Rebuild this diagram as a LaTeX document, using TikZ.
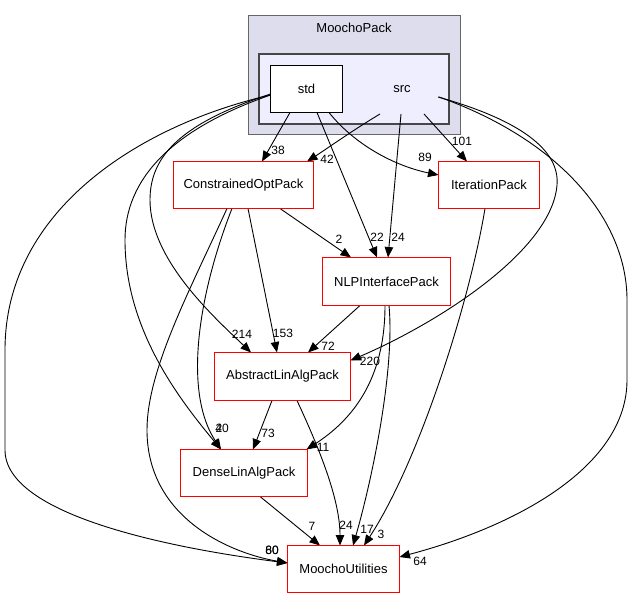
\documentclass[tikz,border=0pt]{standalone}
\usepackage{fontspec}
\setmainfont{Liberation Sans}
\usetikzlibrary{arrows.meta}
\pgfdeclarelayer{back}
\pgfdeclarelayer{edges}
\pgfsetlayers{back,edges,main}
\definecolor{clouter}{HTML}{DDDDEE}
\definecolor{clinner}{HTML}{EEEEFF}
\definecolor{pkgred}{HTML}{FF0000}
\tikzset{
  pkg/.style={fill=white, minimum width=#1, minimum height=47pt,
    inner sep=0pt, outer sep=0pt, font=\fontsize{13}{15}\selectfont},
  pkgframe/.style={draw=pkgred, line width=1.1pt},
  dep/.style={draw=black, line width=0.9pt, -{Triangle[length=10.5pt,width=8.5pt]}},
  elab/.style={font=\fontsize{12}{14}\selectfont, inner sep=0pt},
  clout/.style={draw=black!60, fill=clouter, line width=1pt, inner sep=0pt, outer sep=0pt},
  clin/.style={draw=black!72, fill=clinner, line width=2.4pt, inner sep=0pt, outer sep=0pt},
  plain/.style={inner sep=0pt, font=\fontsize{13}{15}\selectfont},
}
\begin{document}
\begin{tikzpicture}[x=1pt,y=-1pt]
\begin{pgfonlayer}{back}
\useasboundingbox[fill=white] (0,0) rectangle (632,599);
% clusters
\node[clout, minimum width=212pt, minimum height=119pt] (moocho) at (354,75) {};
\node[plain] (moocholab) at (354,28) {MoochoPack};
\node[clin, minimum width=190pt, minimum height=70pt] (srcbox) at (354,89) {};
\end{pgfonlayer}
\node[pkg=72pt] (std) at (306.5,89) {std};
\node[plain] (src) at (402,89) {src};
% packages
\node[pkg=140pt] (cop) at (243.5,185) {ConstrainedOptPack};
\node[pkg=101pt] (ip) at (489,185) {IterationPack};
\node[pkg=128pt, minimum height=48pt] (nlp) at (386.5,281.5) {NLPInterfacePack};
\node[pkg=136pt, minimum height=48pt] (ala) at (282.5,376.5) {AbstractLinAlgPack};
\node[pkg=127pt] (dla) at (244,473) {DenseLinAlgPack};
\node[pkg=112pt] (mu) at (343.5,569) {MoochoUtilities};
\begin{pgfonlayer}{edges}
% edges from std
\draw[dep] ([xshift=-16.5pt]std.south) -- ([xshift=18.5pt]cop.north);
\draw[dep] ([xshift=22.5pt]std.south) .. controls (355,145) and (395,166) .. ([yshift=10pt]ip.west);
\draw[dep] ([xshift=10.5pt]std.south) -- ([xshift=-9.5pt]nlp.north);
\draw[dep] ([yshift=-5pt]std.west) .. controls (175,125) and (150,160) .. (150,200)
  .. controls (150,260) and (215,318) .. ([xshift=-31.5pt]ala.north);
\draw[dep] ([yshift=-6pt]std.west) .. controls (170,130) and (125,180) .. (125,240)
  .. controls (125,330) and (180,400) .. ([xshift=-23pt]dla.north);
\draw[dep] ([yshift=-6pt]std.west) .. controls (140,125) and (5,210) .. (5,350)
  -- (5,450) .. controls (5,515) and (170,548) .. ([yshift=6pt]mu.west);
% edges from src
\draw[dep] ([xshift=-22pt,yshift=-25pt]src.center) .. controls (350,132) and (325,150) .. ([xshift=63.5pt]cop.north);
\draw[dep] ([xshift=-1pt,yshift=-25pt]src.center) -- ([xshift=1.5pt]nlp.north);
\draw[dep] ([xshift=22pt,yshift=-25pt]src.center) -- ([xshift=-22pt]ip.north);
\draw[dep] ([xshift=36pt,yshift=-8pt]src.center) .. controls (520,120) and (560,150) .. (557,185)
  .. controls (552,250) and (440,322) .. ([yshift=16pt]ala.east);
\draw[dep] ([xshift=37pt,yshift=-8pt]src.center) .. controls (560,140) and (627,220) .. (627,300)
  -- (627,380) .. controls (627,465) and (520,525) .. ([yshift=12pt]mu.east);
% other edges
\draw[dep] ([xshift=36.5pt]cop.south) -- ([xshift=-35.5pt]nlp.north);
\draw[dep] ([xshift=4.5pt]cop.south) -- ([xshift=-5.5pt]ala.north);
\draw[dep] ([xshift=-11.5pt]cop.south) .. controls (200,290) and (182,390) .. ([xshift=-23pt]dla.north);
\draw[dep] ([xshift=-16.5pt]cop.south) .. controls (190,290) and (147,370) .. (147,430)
  .. controls (147,515) and (225,552) .. ([yshift=6pt]mu.west);
\draw[dep] ([xshift=-26.5pt]nlp.south) -- ([xshift=25.5pt]ala.north);
\draw[dep] ([xshift=-1.5pt]nlp.south) .. controls (385,380) and (352,420) .. ([xshift=-1pt]dla.north east);
\draw[dep] ([xshift=2.5pt]nlp.south) .. controls (395,370) and (372,480) .. ([xshift=9.5pt]mu.north);
\draw[dep] ([xshift=-4pt]ip.south) .. controls (470,300) and (420,460) .. ([xshift=20.5pt]mu.north);
\draw[dep] ([xshift=-10.5pt]ala.south) -- ([xshift=9pt]dla.north);
\draw[dep] ([xshift=14.5pt]ala.south) .. controls (320,450) and (340,500) .. ([xshift=-3.5pt]mu.north);
\draw[dep] ([xshift=16pt]dla.south) -- ([xshift=-23.5pt]mu.north);
\end{pgfonlayer}
% frames
\draw[line width=1pt, draw=black] (std.south west) rectangle (std.north east);
\foreach \n in {cop,ip,nlp,ala,dla,mu} {
  \draw[pkgframe] (\n.south west) rectangle (\n.north east);
}
% labels
\node[elab] (l38) at (278,150) {38};
\node[elab] (l42) at (327,159) {42};
\node[elab] (l89) at (425,157) {89};
\node[elab] (l101) at (462,141) {101};
\node[elab] (l2) at (339,239) {2};
\node[elab] (l22) at (377,237) {22};
\node[elab] (l24a) at (398,237) {24};
\node[elab] (l214) at (242,334) {214};
\node[elab] (l153) at (283,333) {153};
\node[elab] (l72) at (328,346) {72};
\node[elab] (l220) at (370,361) {220};
\node[elab] (l40) at (222,428) {40};
\node[elab] (l2b) at (219,428) {2};
\node[elab] (l73) at (268,433) {73};
\node[elab] (l11) at (323,447) {11};
\node[elab] (l7) at (312,526) {7};
\node[elab] (l24b) at (346,525) {24};
\node[elab] (l17) at (367,529) {17};
\node[elab] (l3) at (381,534) {3};
\node[elab] (l80) at (272,550) {80};
\node[elab] (l60) at (272,550) {60};
\node[elab] (l64) at (420,561) {64};
\end{tikzpicture}
\end{document}
